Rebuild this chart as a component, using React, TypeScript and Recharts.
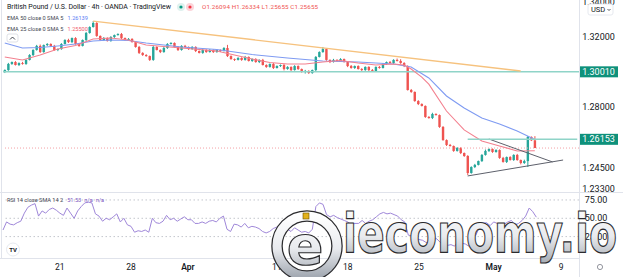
import React from "react";
import { ComposedChart, Bar, Line, XAxis, YAxis, ReferenceLine } from "recharts";

const FONT = "Roboto, 'Noto Sans', sans-serif";
const GREEN = "#26a69a";
const RED = "#ef5350";
const TEAL_LINE = "#8fd4c8";
const TEAL_TAG = "#0e917b";

// GBP/USD 4h candles (open = previous close)
const FIRST_OPEN = 1.3;
const closes = [
  1.3011, 1.3046, 1.3057, 1.304, 1.3051, 1.3046, 1.3069, 1.3097, 1.3126, 1.3149,
  1.3114, 1.3154, 1.316, 1.3149, 1.3126, 1.3131, 1.316, 1.3183, 1.3171, 1.3194,
  1.316, 1.3149, 1.3183, 1.3223, 1.3257, 1.328, 1.3206, 1.3183, 1.3194, 1.3177,
  1.32, 1.3211, 1.3217, 1.3194, 1.3183, 1.3189, 1.3171, 1.3143, 1.3109, 1.3097,
  1.3091, 1.3069, 1.3143, 1.3126, 1.3114, 1.3137, 1.316, 1.3166, 1.3143, 1.3126,
  1.3149, 1.3143, 1.3131, 1.3143, 1.312, 1.3109, 1.3126, 1.3114, 1.3126, 1.3114,
  1.3126, 1.312, 1.3137, 1.3091, 1.3074, 1.3069, 1.308, 1.3069, 1.3086, 1.3063,
  1.3074, 1.3057, 1.3069, 1.304, 1.3029, 1.3046, 1.3023, 1.3034, 1.304, 1.3017,
  1.3029, 1.3011, 1.3034, 1.3017, 1.3, 1.3006, 1.2994, 1.3011, 1.3086, 1.3114,
  1.3131, 1.3069, 1.3057, 1.3069, 1.3063, 1.3074, 1.3057, 1.3034, 1.3023, 1.3034,
  1.3017, 1.3011, 1.3029, 1.3011, 1.3006, 1.3029, 1.3023, 1.3046, 1.3057, 1.3051,
  1.3069, 1.3063, 1.3051, 1.3034, 1.2897, 1.2886, 1.2834, 1.2817, 1.2806, 1.2743,
  1.2737, 1.276, 1.2754, 1.2686, 1.2611, 1.2583, 1.2577, 1.2549, 1.2566, 1.2537,
  1.252, 1.2423, 1.2457, 1.2469, 1.2491, 1.2526, 1.2549, 1.256, 1.2543, 1.2554,
  1.2509, 1.2486, 1.2514, 1.2497, 1.2526, 1.2497, 1.248, 1.2491, 1.2629, 1.26094,
  1.25655,
];
// wick lengths in pips above / below the body
const upperWick = [
  4, 6, 3, 5, 4, 7, 3, 5, 4, 6,
  8, 3, 5, 4, 6, 3, 5, 4, 7, 3,
  5, 4, 3, 6, 4, 11, 5, 3, 6, 4,
  5, 3, 4, 6, 3, 5, 4, 3, 6, 4,
  5, 3, 9, 4, 3, 6, 5, 4, 3, 5,
  4, 6, 3, 5, 4, 3, 6, 4, 5, 3,
  4, 3, 5, 18, 4, 3, 5, 4, 6, 3,
  4, 5, 3, 6, 4, 3, 5, 4, 3, 6,
  4, 3, 5, 4, 3, 6, 4, 3, 5, 4,
  12, 5, 3, 6, 4, 5, 3, 4, 6, 3,
  4, 5, 3, 4, 6, 3, 5, 4, 3, 6,
  4, 8, 10, 5, 4, 6, 3, 5, 4, 3,
  5, 7, 4, 3, 5, 4, 6, 3, 5, 4,
  3, 5, 4, 6, 3, 5, 8, 4, 3, 5,
  4, 6, 3, 5, 4, 6, 3, 8, 5, 3,
  24,
];
const lowerWick = [
  6, 4, 5, 3, 6, 4, 5, 3, 6, 4,
  5, 4, 6, 3, 5, 7, 4, 3, 5, 6,
  4, 5, 3, 6, 4, 3, 5, 4, 6, 3,
  4, 5, 3, 6, 4, 5, 3, 4, 6, 5,
  4, 6, 5, 3, 6, 4, 5, 3, 4, 6,
  4, 3, 5, 4, 6, 3, 5, 4, 3, 5,
  4, 6, 3, 5, 4, 6, 3, 5, 4, 3,
  5, 4, 6, 3, 5, 4, 6, 3, 5, 8,
  4, 6, 3, 5, 4, 9, 5, 4, 6, 3,
  4, 5, 6, 3, 5, 4, 3, 6, 4, 5,
  3, 5, 4, 6, 3, 5, 4, 3, 6, 4,
  5, 3, 4, 6, 3, 5, 4, 6, 3, 5,
  4, 6, 3, 5, 4, 6, 3, 5, 4, 6,
  5, 12, 4, 6, 3, 5, 4, 6, 5, 4,
  5, 4, 6, 3, 5, 4, 8, 5, 34, 4,
  0,
];

// moving averages, read at a few candles
const ema50Idx = [0, 5, 10, 15, 20, 25, 30, 35, 40, 50, 60, 70, 80, 90, 100, 110, 115, 120, 125, 130, 135, 140, 145, 150];
const ema50 = [1.3166, 1.3137, 1.314, 1.3149, 1.316, 1.3177, 1.3183, 1.318, 1.3166, 1.3143, 1.3129, 1.31, 1.308, 1.3063, 1.3057, 1.3046, 1.3029, 1.2966, 1.2863, 1.2794, 1.2737, 1.2703, 1.2663, 1.2614];
const ema25Idx = [0, 5, 10, 15, 20, 25, 30, 35, 40, 50, 60, 65, 70, 75, 80, 85, 90, 95, 100, 105, 110, 113, 115, 118, 120, 125, 130, 135, 140, 145, 150];
const ema25 = [1.3086, 1.3069, 1.3097, 1.3131, 1.3151, 1.3189, 1.3194, 1.3183, 1.3154, 1.3137, 1.312, 1.3097, 1.3074, 1.3054, 1.3046, 1.3046, 1.3057, 1.3066, 1.3051, 1.304, 1.3046, 1.304, 1.3017, 1.2971, 1.2931, 1.2777, 1.2669, 1.2606, 1.2577, 1.2549, 1.255];

const rsi = [
  34, 45, 42, 41, 44, 46, 57, 65, 68, 70,
  53, 60, 57, 62, 64, 61, 57, 54, 64, 57,
  50, 60, 66, 71, 72, 71, 56, 53, 46, 50,
  48, 52, 56, 45, 50, 41, 39, 31, 33, 32,
  34, 31, 50, 44, 43, 46, 54, 48, 50, 46,
  49, 52, 48, 48, 43, 43, 45, 43, 46, 47,
  45, 50, 53, 35, 32, 42, 41, 38, 43, 37,
  39, 38, 36, 32, 30, 32, 36, 38, 36, 33,
  35, 32, 37, 34, 31, 32, 30, 35, 66, 71,
  69, 55, 52, 54, 51, 49, 47, 45, 41, 43,
  43, 47, 43, 46, 48, 52, 56, 58, 56, 57,
  55, 53, 48, 45, 27, 26, 22, 21, 20, 17,
  17, 22, 22, 17, 14, 13, 14, 12, 18, 16,
  15, 12, 24, 27, 38, 43, 44, 40, 45, 43,
  40, 42, 45, 47, 41, 43, 47, 53, 64, 59,
  51.53,
];

// drawn lines: [candle index, price] end points
const orangeLine = [[25, 1.3291], [146, 1.3006]];
const triUpper = [[137, 1.2617], [155, 1.2486]];
const triLower = [[131, 1.2406], [158, 1.2497]];
const resLine = [[131, 1.26153], [162, 1.26153]];

const SLOTS = 163;
const tickIdx = [16, 36, 52, 77, 97, 117, 138, 157];
const tickLabels = ["21", "28", "Apr", "11", "18", "25", "May", "9"];
const priceTicks = [1.233, 1.245, 1.28, 1.32, 1.34];
const rsiTicks = [25, 50, 75];

const PIP = 0.0001;
const rows: any[] = Array.from({ length: SLOTS }, (_, i) => {
  const r: any = { i };
  if (i < closes.length) {
    const open = i === 0 ? FIRST_OPEN : closes[i - 1];
    const close = closes[i];
    r.open = open;
    r.close = close;
    r.high = Math.max(open, close) + upperWick[i] * PIP;
    r.low = Math.min(open, close) - lowerWick[i] * PIP;
    r.rsi = rsi[i];
  }
  return r;
});
ema50Idx.forEach((k, j) => (rows[k].ema50 = ema50[j]));
ema25Idx.forEach((k, j) => (rows[k].ema25 = ema25[j]));
orangeLine.forEach(([k, v]) => (rows[k].orange = v));
triUpper.forEach(([k, v]) => (rows[k].triU = v));
triLower.forEach(([k, v]) => (rows[k].triL = v));
resLine.forEach(([k, v]) => (rows[k].res = v));

function Candle(props: any) {
  const { x, y, width, height, payload } = props;
  if (!payload || payload.high == null) return null;
  const top = Math.min(y, y + height);
  const h = Math.abs(height);
  const span = payload.high - payload.low;
  const toY = (p: number) => (span > 0 ? top + ((payload.high - p) / span) * h : top);
  const cx = x + width / 2;
  const color = payload.close >= payload.open ? GREEN : RED;
  const bTop = toY(Math.max(payload.open, payload.close));
  const bBot = toY(Math.min(payload.open, payload.close));
  return (
    <g>
      <line x1={cx} x2={cx} y1={top} y2={top + h} stroke={color} strokeWidth={1} />
      <rect x={cx - 1.2} y={bTop} width={2.4} height={Math.max(bBot - bTop, 0.8)} fill={color} />
    </g>
  );
}

function PriceTag(props: any) {
  const vb = props.viewBox || {};
  const x = (vb.x || 0) + (vb.width || 0);
  const y = vb.y || 0;
  return (
    <g>
      <rect x={x} y={y - 5.5} width={39} height={11} fill={TEAL_TAG} />
      <text x={x + 19.5} y={y} dy="0.35em" textAnchor="middle" fontSize={9} fill="#fff" fontFamily={FONT}>
        {props.text}
      </text>
    </g>
  );
}

const PriceTick = (p: any) => (
  <text x={598.5} y={p.y} dy="0.35em" textAnchor="middle" fontSize={9} fill="#131722" fontFamily={FONT}>
    {Number(p.payload.value).toFixed(5)}
  </text>
);

// RSI chart svg starts at page y=192, so the clamp is in its own coordinates
const RsiTick = (p: any) => (
  <text x={596} y={Math.max(p.y, 4)} dy="0.35em" textAnchor="middle" fontSize={9} fill="#131722" fontFamily={FONT}>
    {Number(p.payload.value).toFixed(2)}
  </text>
);

const DateTick = (p: any) => {
  const k = tickIdx.indexOf(p.payload.value);
  const label = tickLabels[k];
  const month = label === "Apr" || label === "May";
  return (
    <text x={p.x} y={p.y + 1} dy="0.35em" textAnchor="middle" fontSize={8.5} fontWeight={month ? 600 : 400} fill="#131722" fontFamily={FONT}>
      {label}
    </text>
  );
};

function Watermark() {
  return (
    <g>
      <defs>
        <linearGradient id="silver" x1="0" y1="0" x2="0" y2="1">
          <stop offset="0" stopColor="#ffffff" />
          <stop offset="0.55" stopColor="#e8eaee" />
          <stop offset="1" stopColor="#a4aab3" />
        </linearGradient>
      </defs>
      <circle cx={307} cy={246} r={30} fill="none" stroke="#2b2b2e" strokeWidth={11.5} />
      <circle cx={307} cy={246} r={30} fill="none" stroke="url(#silver)" strokeWidth={9} />
      <text x={305} y={264} textAnchor="middle" fontSize={54} fontWeight={700} fontFamily="'DejaVu Sans', sans-serif" fill="url(#silver)" stroke="#2b2b2e" strokeWidth={1.2}>
        e
      </text>
      <rect x={303} y={213} width={6} height={6} fill="#e3b21c" stroke="#6b5200" strokeWidth={0.6} />
      <text x={343} y={252} fontSize={53} fontWeight={700} fontFamily="'DejaVu Sans', sans-serif" textLength={274} lengthAdjust="spacingAndGlyphs" fill="url(#silver)" stroke="#2b2b2e" strokeWidth={1.2}>
        ieconomy.io
      </text>
    </g>
  );
}

export default function App() {
  const txt = { fontFamily: FONT } as const;
  return (
    <div style={{ position: "fixed", left: 0, top: 0, width: 623, height: 277, background: "#fff", overflow: "hidden" }}>
      <div style={{ position: "absolute", left: 0, top: 0 }}>
        <ComposedChart width={623} height={192} data={rows} margin={{ top: 0, right: 0, bottom: 0, left: 3 }}>
          <XAxis dataKey="i" type="category" hide />
          <YAxis
            orientation="right"
            width={44}
            domain={[1.231429, 1.341143]}
            allowDataOverflow
            ticks={priceTicks}
            interval={0}
            tick={PriceTick}
            axisLine={false}
            tickLine={false}
          />
          <ReferenceLine y={1.3001} stroke={TEAL_LINE} strokeWidth={1.5} label={<PriceTag text="1.30010" />} />
          <ReferenceLine y={1.25655} stroke="#f4a0a6" strokeDasharray="1 2" />
          <Bar dataKey={(d: any) => (d.high == null ? null : [d.low, d.high])} shape={Candle} isAnimationActive={false} />
          <Line dataKey="ema50" stroke="#7f9bf2" strokeWidth={1.1} dot={false} activeDot={false} connectNulls isAnimationActive={false} />
          <Line dataKey="ema25" stroke="#f3808f" strokeWidth={1.1} dot={false} activeDot={false} connectNulls isAnimationActive={false} />
          <Line dataKey="orange" stroke="#f6c27e" strokeWidth={1.4} dot={false} activeDot={false} connectNulls isAnimationActive={false} />
          <Line dataKey="triU" stroke="#5d606b" strokeWidth={1} dot={false} activeDot={false} connectNulls isAnimationActive={false} />
          <Line dataKey="triL" stroke="#5d606b" strokeWidth={1} dot={false} activeDot={false} connectNulls isAnimationActive={false} />
          <Line dataKey="res" stroke={TEAL_LINE} strokeWidth={1.5} dot={false} activeDot={false} connectNulls isAnimationActive={false} />
          <ReferenceLine y={1.26153} stroke="none" label={<PriceTag text="1.26153" />} />
        </ComposedChart>
      </div>
      <div style={{ position: "absolute", left: 0, top: 192 }}>
        <ComposedChart width={623} height={85} data={rows} margin={{ top: 1, right: 0, bottom: 0, left: 3 }}>
          <XAxis dataKey="i" type="category" height={19} ticks={tickIdx} interval={0} tickLine={false} axisLine={false} tick={DateTick} />
          <YAxis
            orientation="right"
            width={44}
            domain={[-4.2, 84.5]}
            allowDataOverflow
            ticks={rsiTicks}
            interval={0}
            tick={RsiTick}
            axisLine={false}
            tickLine={false}
          />
          <ReferenceLine y={75} stroke="#c3c6cd" strokeDasharray="1.5 2.5" />
          <ReferenceLine y={50} stroke="#c3c6cd" strokeDasharray="1.5 2.5" />
          <ReferenceLine y={25} stroke="#c3c6cd" strokeDasharray="1.5 2.5" />
          <Line dataKey="rsi" stroke="#9f87d9" strokeWidth={1} dot={false} activeDot={false} isAnimationActive={false} />
        </ComposedChart>
      </div>
      <svg width={623} height={277} style={{ position: "absolute", left: 0, top: 0, pointerEvents: "none" }}>
        <line x1={579.5} x2={579.5} y1={0} y2={277} stroke="#e0e3eb" />
        <line x1={0} x2={623} y1={192.5} y2={192.5} stroke="#e0e3eb" />
        <line x1={0} x2={579} y1={258.5} y2={258.5} stroke="#e0e3eb" />
        <line x1={1.5} x2={1.5} y1={0} y2={258} stroke="#e0e3eb" />

        <text x={7} y={7} dy="0.35em" fontSize={7} fill="#131722" textLength={164} style={txt}>
          British Pound / U.S. Dollar · 4h · OANDA · TradingView
        </text>
        <circle cx={181} cy={7} r={4} fill="#dff1ee" />
        <circle cx={181} cy={7} r={1.6} fill="#089981" />
        <circle cx={190} cy={7} r={4} fill="#fbd5da" />
        <circle cx={190} cy={7} r={1.6} fill="#f23645" />
        <text x={202} y={7} dy="0.35em" fontSize={6.2} fill={RED} textLength={116} style={txt}>
          O1.26094 H1.26334 L1.25655 C1.25655
        </text>

        <text x={7} y={18} dy="0.35em" fontSize={5.6} fill="#434651" style={txt}>
          EMA 50 close 0 SMA 5
          <tspan dx={4} fill="#5b7cf5">1.26139</tspan>
        </text>
        <text x={7} y={29} dy="0.35em" fontSize={5.6} fill="#434651" style={txt}>
          EMA 25 close 0 SMA 5
          <tspan dx={4} fill="#f0606f">1.25500</tspan>
        </text>
        <rect x={7} y={34} width={11} height={8} rx={2} fill="#fff" stroke="#d1d4dc" strokeWidth={0.7} />
        <path d="M10 39.5 L12.5 37 L15 39.5" fill="none" stroke="#131722" strokeWidth={0.8} />

        <text x={7} y={200} dy="0.35em" fontSize={5.6} fill="#434651" style={txt}>
          RSI 14 close SMA 14 2
          <tspan dx={4} fill="#7e57c2">51.53</tspan>
          <tspan dx={3} fill="#7e57c2">n/a</tspan>
          <tspan dx={3} fill="#7e57c2">n/a</tspan>
        </text>

        <rect x={588} y={4} width={25} height={11} rx={2} fill="#fff" stroke="#e0e3eb" strokeWidth={0.8} />
        <text x={591} y={9.5} dy="0.35em" fontSize={7.5} fill="#131722" style={txt}>
          USD
        </text>
        <path d="M607.5 9 L609 10.5 L610.5 9" fill="none" stroke="#131722" strokeWidth={0.7} />

        <circle cx={13} cy={249.5} r={6.5} fill="#fff" stroke="#e0e3eb" strokeWidth={0.8} />
        <text x={13} y={249.5} dy="0.35em" textAnchor="middle" fontSize={6} fontWeight={700} fill="#131722" style={txt}>
          TV
        </text>
        <circle cx={600} cy={267} r={2.6} fill="none" stroke="#787b86" strokeWidth={0.8} />

        <Watermark />
      </svg>
    </div>
  );
}
